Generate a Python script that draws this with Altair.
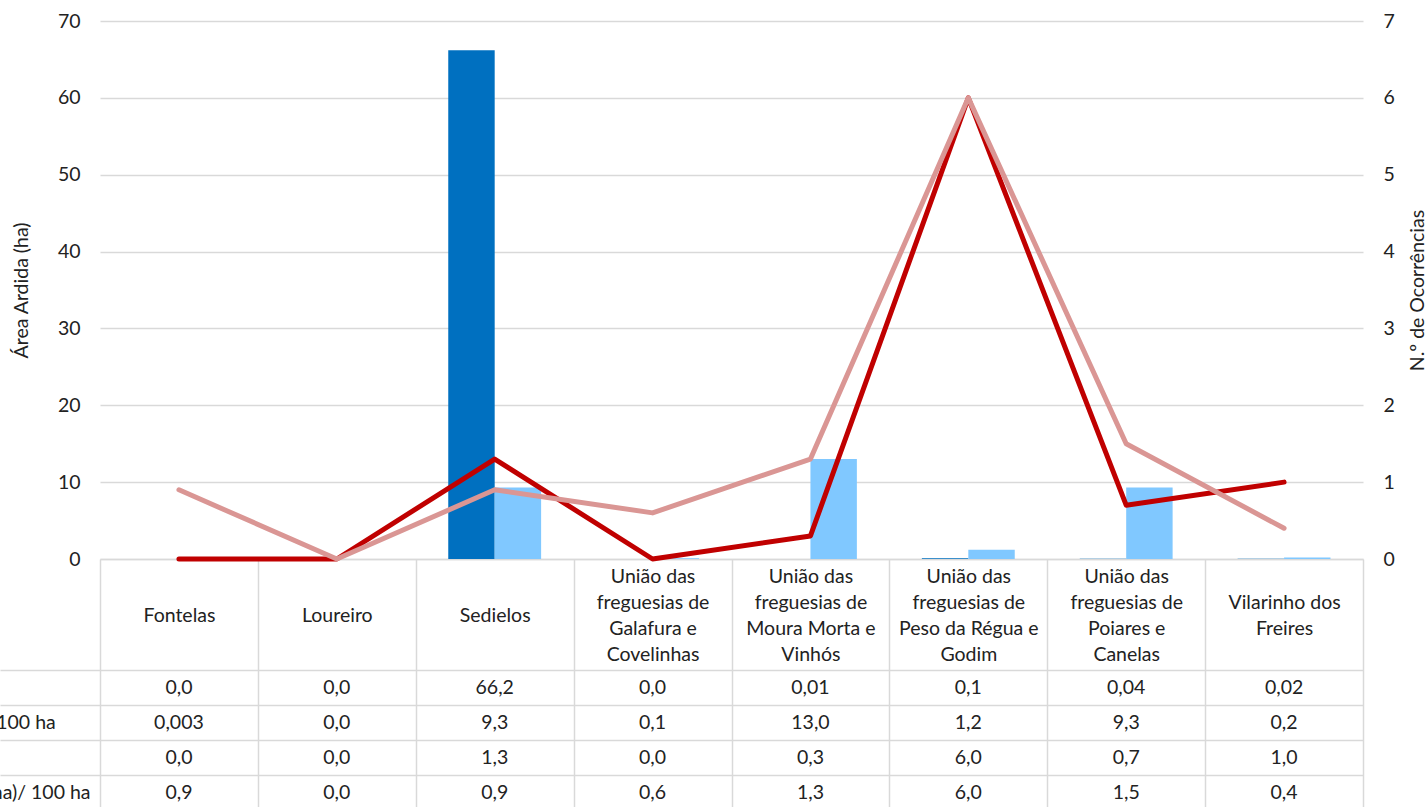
import json

import altair as alt
import pandas as pd

# Freguesias (the "|" marks where each name wraps in the table header)
categorias = [
    "Fontelas",
    "Loureiro",
    "Sedielos",
    "União das|freguesias de|Galafura e|Covelinhas",
    "União das|freguesias de|Moura Morta e|Vinhós",
    "União das|freguesias de|Peso da Régua e|Godim",
    "União das|freguesias de|Poiares e|Canelas",
    "Vilarinho dos|Freires",
]

area_ardida = [0.0, 0.0, 66.2, 0.0, 0.01, 0.1, 0.04, 0.02]
area_ardida_100ha = [0.003, 0.0, 9.3, 0.1, 13.0, 1.2, 9.3, 0.2]
ocorrencias = [0.0, 0.0, 1.3, 0.0, 0.3, 6.0, 0.7, 1.0]
ocorrencias_100ha = [0.9, 0.0, 0.9, 0.6, 1.3, 6.0, 1.5, 0.4]

linhas_tabela = [
    "Área Ardida (ha)",
    "Área Ardida (ha)/ 100 ha",
    "N.º Ocorrências",
    "N.º Ocorrências (ha)/ 100 ha",
]
series_barras = linhas_tabela[:2]

AZUL = "#0070C0"
AZUL_CLARO = "#80C8FF"
VERMELHO = "#C00000"
ROSA = "#DA9694"
GRELHA = "#D9D9D9"
TEXTO = "#222222"
FONTE = "Lato"
TAM = 19.5

W, H = 1263, 538
MAX_LINHAS = 4
VAZIO = "\u200b"  # zero-width filler so blank slots keep their height


def fmt(v):
    """Portuguese decimal comma, at least one decimal place."""
    if abs(v * 10 - round(v * 10)) < 1e-9:
        s = f"{v:.1f}"
    else:
        s = f"{v:g}"
    return s.replace(".", ",")


def rotulo_centrado(nome):
    """Header text laid out on half-line slots so every name is centred vertically."""
    partes = nome.split("|")
    slots = [VAZIO] * (MAX_LINHAS - len(partes))
    for i, p in enumerate(partes):
        if i:
            slots.append(VAZIO)
        slots.append(p)
    return slots


mapa_rotulos = json.dumps({c: rotulo_centrado(c) for c in categorias}, ensure_ascii=False)

barras = pd.DataFrame(
    [(c, series_barras[0], v) for c, v in zip(categorias, area_ardida)]
    + [(c, series_barras[1], v) for c, v in zip(categorias, area_ardida_100ha)],
    columns=["categoria", "serie", "valor"],
)
linha_ocorr = pd.DataFrame({"categoria": categorias, "valor": ocorrencias})
linha_ocorr100 = pd.DataFrame({"categoria": categorias, "valor": ocorrencias_100ha})

tabela = pd.DataFrame(
    [
        (c, nome, fmt(v))
        for nome, serie in zip(
            linhas_tabela, [area_ardida, area_ardida_100ha, ocorrencias, ocorrencias_100ha]
        )
        for c, v in zip(categorias, serie)
    ],
    columns=["categoria", "linha", "texto"],
)

x_scale = alt.Scale(type="band", domain=categorias, paddingInner=0, paddingOuter=0)
x_axis = alt.Axis(
    title=None,
    orient="bottom",
    grid=False,
    domain=True,
    domainColor=GRELHA,
    domainWidth=1.5,
    ticks=True,
    tickBand="extent",
    tickSize=248,
    tickColor=GRELHA,
    tickWidth=1.5,
    labelAngle=0,
    labelExpr=f"{mapa_rotulos}[datum.label]",
    labelBaseline="middle",
    labelPadding=-231,
    labelLineHeight=13,
    labelFontSize=TAM,
    labelColor=TEXTO,
    labelOverlap=False,
    labelLimit=300,
)

eixo_area = alt.Axis(
    orient="left",
    values=list(range(0, 71, 10)),
    grid=True,
    gridColor=GRELHA,
    gridWidth=1.5,
    domain=False,
    ticks=False,
    labelPadding=20,
    labelFontSize=TAM,
    labelColor=TEXTO,
    title="Área Ardida (ha)",
    titleX=-79,
    titleY=H / 2,
    titleAngle=270,
    titleAlign="center",
    titleBaseline="middle",
    titleFontSize=TAM,
    titleFontWeight="normal",
    titleColor=TEXTO,
)

eixo_ocorr = alt.Axis(
    orient="right",
    values=list(range(0, 8)),
    grid=False,
    domain=False,
    ticks=False,
    labelPadding=20,
    labelFontSize=TAM,
    labelColor=TEXTO,
    title="N.º de Ocorrências",
    titleX=54,
    titleY=H / 2,
    titleAngle=270,
    titleAlign="center",
    titleBaseline="middle",
    titleFontSize=TAM,
    titleFontWeight="normal",
    titleColor=TEXTO,
)

# Clustered bars on the left axis
camada_barras = alt.Chart(barras).mark_bar().encode(
    x=alt.X("categoria:N", scale=x_scale, sort=categorias, axis=x_axis),
    xOffset=alt.XOffset(
        "serie:N",
        sort=series_barras,
        scale=alt.Scale(domain=series_barras, paddingInner=0, paddingOuter=0.7),
    ),
    y=alt.Y("valor:Q", scale=alt.Scale(domain=[0, 70]), axis=eixo_area),
    color=alt.Color(
        "serie:N",
        scale=alt.Scale(domain=series_barras, range=[AZUL, AZUL_CLARO]),
        legend=None,
    ),
)


# Occurrence lines on the right axis
def linha(df, cor):
    return alt.Chart(df).mark_line(
        color=cor, strokeWidth=5, strokeCap="round", strokeJoin="round"
    ).encode(
        x=alt.X("categoria:N", scale=x_scale, sort=categorias, axis=x_axis, bandPosition=0.5),
        y=alt.Y("valor:Q", scale=alt.Scale(domain=[0, 7]), axis=eixo_ocorr),
    )


camada_linhas = alt.layer(linha(linha_ocorr, VERMELHO), linha(linha_ocorr100, ROSA))

# Data table under the plot
eixo_tabela = alt.Axis(
    orient="left",
    title=None,
    domain=False,
    ticks=True,
    tickBand="extent",
    tickSize=100,
    tickColor=GRELHA,
    tickWidth=1.5,
    grid=True,
    gridColor=GRELHA,
    gridWidth=1.5,
    labelAlign="left",
    labelBaseline="middle",
    labelPadding=154,
    labelFontSize=TAM,
    labelColor=TEXTO,
    labelLimit=500,
)

camada_tabela = alt.Chart(tabela).mark_text(fontSize=TAM, color=TEXTO, font=FONTE).encode(
    x=alt.X("categoria:N", scale=x_scale, sort=categorias, axis=x_axis, bandPosition=0.5),
    y=alt.Y(
        "linha:N",
        sort=linhas_tabela,
        scale=alt.Scale(
            type="band", domain=linhas_tabela, range=[649, 789], paddingInner=0, paddingOuter=0
        ),
        axis=eixo_tabela,
        bandPosition=0.5,
    ),
    text="texto:N",
)

chart = (
    alt.layer(camada_barras, camada_linhas, camada_tabela)
    .resolve_scale(y="independent")
    .properties(
        width=W,
        height=H,
        autosize=alt.AutoSizeParams(type="none"),
        padding={"left": 100, "top": 21, "right": 64, "bottom": 248},
    )
    .configure(font=FONTE)
    .configure_view(stroke=None)
)

chart.save("out.html", embed_options={"renderer": "svg", "actions": False})
